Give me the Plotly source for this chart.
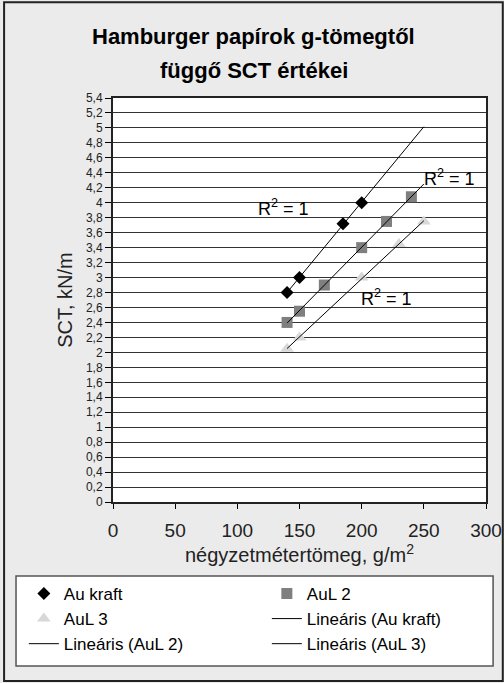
import numpy as np
import plotly.graph_objects as go

# Data
au_kraft_x = [140, 150, 185, 200]
au_kraft_y = [2.8, 3.0, 3.72, 4.0]
aul2_x = [140, 150, 170, 200, 220, 240]
aul2_y = [2.4, 2.55, 2.9, 3.4, 3.75, 4.08]
aul3_x = [140, 150, 200, 230, 250]
aul3_y = [2.05, 2.2, 3.0, 3.45, 3.75]
trend_end = 250

y_tickvals = [round(0.2 * i, 1) for i in range(28)]
y_ticktext = [("%g" % v).replace(".", ",") for v in y_tickvals]
x_tickvals = [0, 50, 100, 150, 200, 250, 300]

FONT = "Liberation Sans, Arial, sans-serif"

def trend(xs, ys):
    k, b = np.polyfit(xs, ys, 1)
    x0 = min(xs)
    return [x0, trend_end], [k * x0 + b, k * trend_end + b]

fig = go.Figure()
fig.add_trace(go.Scatter(x=au_kraft_x, y=au_kraft_y, mode="markers", name="Au kraft",
                         marker=dict(symbol="diamond", size=10, color="black")))
fig.add_trace(go.Scatter(x=aul2_x, y=aul2_y, mode="markers", name="AuL 2",
                         marker=dict(symbol="square", size=11, color="#7f7f7f")))
fig.add_trace(go.Scatter(x=aul3_x, y=aul3_y, mode="markers", name="AuL 3",
                         marker=dict(symbol="triangle-up", size=12, color="#d8d8d8")))
for nm, xs, ys in [("Lineáris (Au kraft)", au_kraft_x, au_kraft_y),
                   ("Lineáris (AuL 2)", aul2_x, aul2_y),
                   ("Lineáris (AuL 3)", aul3_x, aul3_y)]:
    tx, ty = trend(xs, ys)
    fig.add_trace(go.Scatter(x=tx, y=ty, mode="lines", name=nm,
                             line=dict(color="black", width=1)))

annots = [(137, 3.93), (271, 4.34), (220, 2.73)]
for ax_, ay_ in annots:
    fig.add_annotation(x=ax_, y=ay_, text="R<sup>2</sup> = 1", showarrow=False,
                       font=dict(size=18, color="black", family=FONT))

# Title (two lines) as paper annotations
for txt, yp in [("<b>Hamburger papírok g-tömegtől</b>", 1.151),
                ("<b>függő SCT értékei</b>", 1.067)]:
    fig.add_annotation(x=0.378, y=yp, xref="paper", yref="paper", text=txt,
                       showarrow=False, xanchor="center", yanchor="middle",
                       font=dict(size=22, color="black", family=FONT))

fig.update_layout(
    width=504, height=683,
    margin=dict(l=113, r=18, t=98, b=181, autoexpand=False),
    paper_bgcolor="#ebebeb", plot_bgcolor="white",
    font=dict(family=FONT, color="#222"),
    xaxis=dict(range=[0, 300], tickvals=x_tickvals, ticks="outside", ticklen=5,
               tickcolor="black", showline=True, linecolor="#222", linewidth=2,
               mirror=True, showgrid=False, zeroline=False, ticklabelstandoff=5,
               tickfont=dict(size=19, color="#222"),
               title=dict(text="négyzetmétertömeg, g/m<sup>2</sup>", font=dict(size=20, color="#222"), standoff=8)),
    yaxis=dict(range=[0, 5.4], tickvals=y_tickvals, ticktext=y_ticktext, ticks="outside",
               ticklen=6, tickcolor="black", showline=True, linecolor="#222", linewidth=2,
               mirror=True, showgrid=True, gridcolor="#333", gridwidth=1, zeroline=False,
               tickfont=dict(size=12, color="#222"),
               title=dict(text="SCT, kN/m", font=dict(size=20, color="#222"), standoff=8)),
    legend=dict(orientation="h", x=-0.239, xanchor="left", y=-0.183, yanchor="top",
                entrywidth=198, entrywidthmode="pixels", bgcolor="rgba(0,0,0,0)",
                borderwidth=0,
                font=dict(size=17, color="black", family=FONT), traceorder="normal"),
    showlegend=True,
)
# legend box
fig.add_shape(type="rect", xref="paper", yref="paper", x0=-0.260, x1=1.019, y0=-0.406, y1=-0.183,
              line=dict(color="#555", width=1.5), fillcolor="white", layer="below")
# outer frame
fig.add_shape(type="rect", xref="paper", yref="paper", x0=-0.292, x1=1.045, y0=-0.443, y1=1.237,
              line=dict(color="#222", width=2), fillcolor="rgba(0,0,0,0)", layer="below")
fig.write_html("out.html")
